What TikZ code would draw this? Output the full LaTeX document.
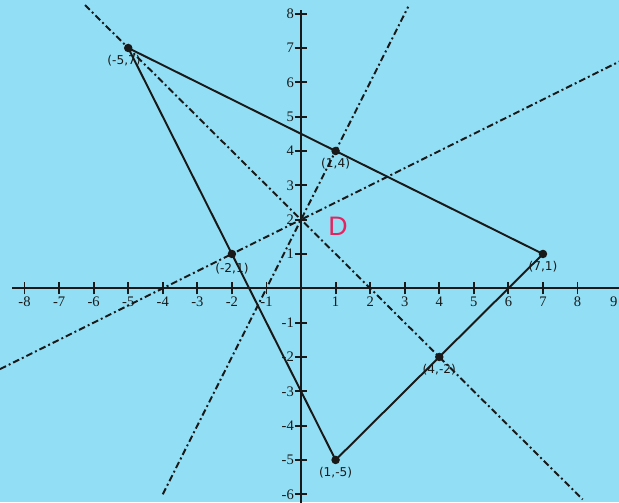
\documentclass[tikz,border=0pt]{standalone}
\usepackage{fontspec}
\setmainfont{Liberation Serif}
\newfontfamily\lblfont{DejaVu Sans}
\newfontfamily\dfont{Liberation Sans}
\definecolor{bg}{RGB}{146,222,244}
\definecolor{penred}{RGB}{228,36,96}
\definecolor{ink}{RGB}{25,25,25}
\begin{document}
\begin{tikzpicture}[x=1cm,y=0.9933cm,
  axis/.style={line width=1.9pt,ink},
  tri/.style={line width=1.6pt,ink},
  bis/.style={line width=1.6pt,ink,dash pattern=on 5.5pt off 2.5pt on 1.6pt off 2.5pt},
  pt/.style={circle,fill=ink,inner sep=0pt,minimum size=7pt},
  lbl/.style={font=\lblfont\fontsize{10}{10}\selectfont,inner sep=0pt,text=ink},
  tickmark/.style={line width=1.5pt,ink},
  ticklbl/.style={font=\fontsize{12}{12}\selectfont,inner sep=0pt,text=ink}]
\fill[bg] (-8.71,-6.225) rectangle (9.20,8.398);
\useasboundingbox (-8.71,-6.225) rectangle (9.20,8.398);
% perpendicular bisectors
\coordinate (p1a) at (-6.25,8.25);  \coordinate (p1b) at (8.15,-6.15);
\coordinate (p2a) at (-8.71,-2.355); \coordinate (p2b) at (9.3,6.65);
\coordinate (p3a) at (-4,-6);       \coordinate (p3b) at (3.1,8.2);
\draw[bis] (p1a) -- (p1b);
\draw[bis] (p2a) -- (p2b);
\draw[bis] (p3a) -- (p3b);
% axes
\coordinate (xl) at (-8.36,0); \coordinate (xr) at (9.4,0);
\coordinate (yt) at (0,8.1);   \coordinate (yb) at (0,-6.4);
\draw[axis] (xl) -- (xr);
\draw[axis] (yb) -- (yt);
\foreach \x in {-8,...,-1,1,2,...,8} {
  \draw[tickmark] (\x,-0.18) -- (\x,0.18);
  \node[ticklbl] (tx\x) at (\x,-0.4) {\x};
}
\node[ticklbl] (tx9) at (9.05,-0.4) {9};
\foreach \y in {-6,...,-1,1,2,...,8} {
  \draw[tickmark] (-0.18,\y) -- (0.18,\y);
  \node[ticklbl,anchor=east] (ty\y) at (-0.2,\y) {\y};
}
% triangle
\coordinate (A) at (-5,7);
\coordinate (B) at (7,1);
\coordinate (C) at (1,-5);
\draw[tri] (A) -- (B) -- (C) -- cycle;
% points
\node[pt] (Ad) at (A) {};
\node[pt] (Bd) at (B) {};
\node[pt] (Cd) at (C) {};
\node[pt] (M1) at (1,4) {};
\node[pt] (M2) at (4,-2) {};
\node[pt] (M3) at (-2,1) {};
\node[lbl] (LA) at ([xshift=-0.12cm,yshift=-0.36cm]Ad) {(-5,7)};
\node[lbl] (LB) at ([yshift=-0.38cm]Bd) {(7,1)};
\node[lbl] (LC) at ([yshift=-0.38cm]Cd) {(1,-5)};
\node[lbl] (L1) at ([yshift=-0.38cm]M1) {(1,4)};
\node[lbl] (L2) at ([yshift=-0.38cm]M2) {(4,-2)};
\node[lbl] (L3) at ([yshift=-0.43cm]M3) {(-2,1)};
% red D
\node[text=penred,font=\dfont\fontsize{22}{22}\selectfont,inner sep=0pt] (Dlbl) at (1.07,1.81) {D};
\end{tikzpicture}
\end{document}
